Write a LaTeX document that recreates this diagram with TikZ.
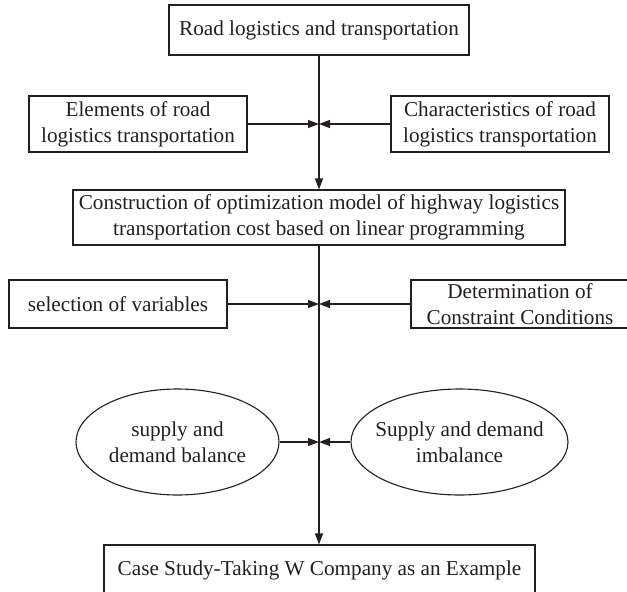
\documentclass[tikz,border=0pt]{standalone}
\usepackage{fontspec}
\setmainfont{Liberation Serif}
\usetikzlibrary{shapes.geometric,arrows.meta}
\definecolor{ink}{HTML}{231F20}
\begin{document}
\begin{tikzpicture}[x=1pt,y=-1pt,
  every node/.style={font=\fontsize{21.2}{26}\selectfont, text=ink},
  box/.style={draw=ink, line width=1.1pt, rectangle, align=center, inner sep=0pt},
  oval/.style={draw=ink, line width=1.1pt, ellipse, align=center, inner xsep=-14pt, inner ysep=0pt},
  link/.style={draw=ink, line width=1.1pt, -{Triangle[length=11pt,width=8pt]}}]
\useasboundingbox (0,0) rectangle (627,592);

% boxes of the flow
\node[box, minimum width=300pt, minimum height=50pt] (road) at (319,30) {Road logistics and transportation};
\node[box, minimum width=218pt, minimum height=56pt] (elem) at (138,124) {Elements of road\\logistics transportation};
\node[box, minimum width=218pt, minimum height=56pt] (char) at (500,124) {Characteristics of road\\logistics transportation};
\node[box, minimum width=492pt, minimum height=55pt] (cons) at (319,217.5) {Construction of optimization model of highway logistics\\transportation cost based on linear programming};
\node[box, minimum width=218pt, minimum height=48pt] (sel) at (118,304) {selection of variables};
\node[box, minimum width=218pt, minimum height=48pt, text depth=0pt] (det) at (520,304) {Determination of\\Constraint Conditions};
\node[oval, minimum width=203pt, minimum height=106pt] (bal) at (177.5,442) {supply and\\demand balance};
\node[oval, minimum width=217pt, minimum height=106pt] (imb) at (459.5,442) {Supply and demand\\imbalance};
\node[box, minimum width=431pt, minimum height=50pt] (case) at (319.5,570) {Case Study-Taking W Company as an Example};

% junction points on the main stem
\coordinate (j1) at (319,124);
\coordinate (j2) at (319,304);
\coordinate (j3) at (319,442);

% main stem
\draw[link] (road.south) -- (cons.north);
\draw[link] (cons.south) -- (cons.south |- case.north);

% side inputs
\draw[link] (elem.east) -- (j1);
\draw[link] (char.west) -- (j1);
\draw[link] (sel.east) -- (j2);
\draw[link] (det.west) -- (j2);
\draw[link] (bal.east) -- (j3);
\draw[link] (imb.west) -- (j3);
\end{tikzpicture}
\end{document}
